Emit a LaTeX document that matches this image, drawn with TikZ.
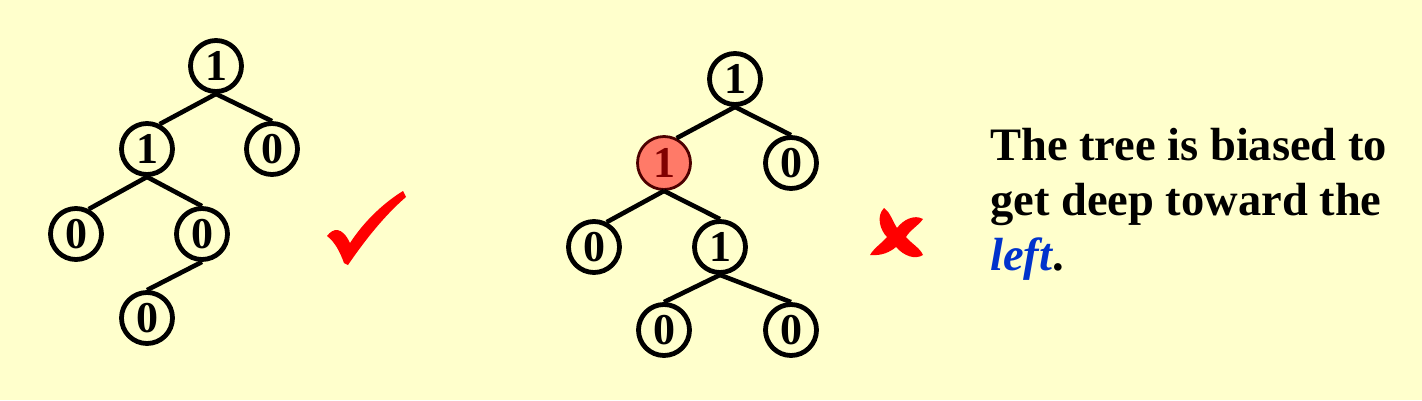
\documentclass[tikz,border=0pt]{standalone}
\usepackage{fontspec}
\setmainfont{Liberation Serif}
\definecolor{bg}{HTML}{FFFFCC}
\definecolor{hl}{HTML}{FF7A68}
\definecolor{hltext}{HTML}{800000}
\definecolor{leftblue}{HTML}{0033CC}
\begin{document}
\begin{tikzpicture}[x=1pt,y=-1pt,
  tnode/.style={circle,draw=black,line width=4.8pt,minimum size=51pt,inner sep=0pt,
    font=\fontsize{44}{44}\selectfont\bfseries},
  hlnode/.style={tnode,fill=hl,draw=hltext!60!black,line width=2.8pt,minimum size=53pt,text=hltext},
  edge/.style={line width=4.6pt},
  txt/.style={anchor=base west,inner sep=0pt,font=\fontsize{46.5}{55}\selectfont\bfseries}]
\fill[bg] (0,0) rectangle (1422,400);
\useasboundingbox (0,0) rectangle (1422,400);
% left tree
\node[tnode] (a) at (216,66) {1};
\node[tnode] (b) at (147,149) {1};
\node[tnode] (c) at (272,149) {0};
\node[tnode] (d) at (76,234) {0};
\node[tnode] (e) at (202,234) {0};
\node[tnode] (f) at (147,318) {0};
\draw[edge] (a.south) -- (b.63);
\draw[edge] (a.south) -- (c.north);
\draw[edge] (b.south) -- (d.63);
\draw[edge] (b.south) -- (e.north);
\draw[edge] (e.south) -- (f.north);
% check mark
\fill[red] (327,236) .. controls (333,228) and (342,226) .. (350,243)
  .. controls (365,220) and (385,202) .. (403,191) -- (406,197)
  .. controls (385,215) and (365,240) .. (348,265) -- (344,263)
  .. controls (340,252) and (335,242) .. (327,236) -- cycle;
% right tree
\node[tnode] (p) at (735,79) {1};
\node[hlnode] (q) at (664,163) {1};
\node[tnode] (r) at (791,163) {0};
\node[tnode] (s) at (594,247) {0};
\node[tnode] (t) at (720,247) {1};
\node[tnode] (u) at (664,330) {0};
\node[tnode] (v) at (791,330) {0};
\draw[edge] (p.south) -- (q.63);
\draw[edge] (p.south) -- (r.north);
\draw[edge] (q.south) -- (s.63);
\draw[edge] (q.south) -- (t.north);
\draw[edge] (t.south) -- (u.north);
\draw[edge] (t.south) -- (v.north);
% cross
\fill[red] (884,208) .. controls (890,212) and (892,220) .. (897,228)
  .. controls (903,220) and (914,214) .. (923,219)
  .. controls (918,226) and (910,230) .. (906,237)
  .. controls (912,244) and (920,248) .. (923,255)
  .. controls (915,260) and (904,256) .. (896,247)
  .. controls (890,252) and (882,256) .. (870,255)
  .. controls (874,248) and (882,243) .. (887,237)
  .. controls (880,230) and (876,216) .. (884,208) -- cycle;
% text
\node[txt] (t1) at (990,160) {The tree is biased to};
\node[txt] (t2) at (990,215) {get deep toward the};
\node[txt] (t3) at (990,270) {\textcolor{leftblue}{\itshape left}.};
\end{tikzpicture}
\end{document}
